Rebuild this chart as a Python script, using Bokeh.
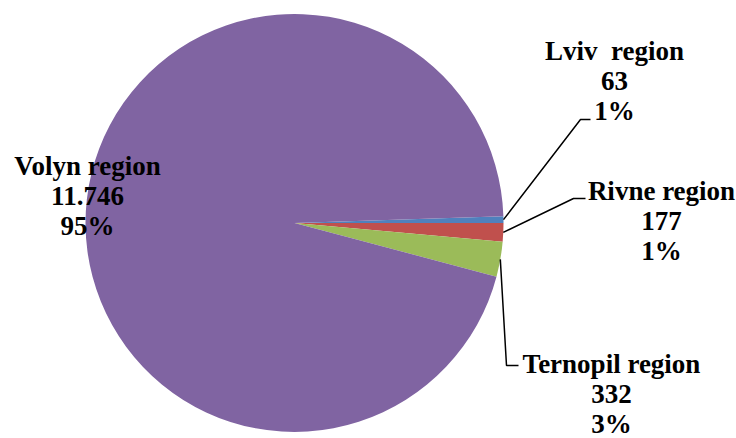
import math
from bokeh.plotting import figure
from bokeh.models import Range1d, ColumnDataSource
from bokeh.core.properties import value
from bokeh.embed import file_html
from bokeh.resources import INLINE

# ---- data ----
regions = ["Lviv\u00a0 region", "Rivne region", "Ternopil region", "Volyn region"]
amounts = [63, 177, 332, 11746]
colors = ["#4F81BD", "#C0504D", "#9BBB59", "#8064A2"]

# ---- layout (plot pixels, y up) ----
W, H = 736, 438
CX, CY, R = 294, 215.5, 209
START_DEG = 1.84  # rotation of first slice edge (math degrees)
# label centres (x, y of first line) and leader elbows
label_pos = [(614, 388), (661, 248), (611, 75), (87, 273)]
elbows = [[(580, 319), (590, 319)], [(573, 240), (585, 240)], [(506, 73), (518, 73)], None]
LINE_GAP = 30

total = sum(amounts)
starts, ends, mids = [], [], []
cum = 0.0
for a in amounts:
    s = math.radians(START_DEG) - 2 * math.pi * cum / total
    cum += a
    e = math.radians(START_DEG) - 2 * math.pi * cum / total
    starts.append(e)
    ends.append(s)
    mids.append((s + e) / 2)

p = figure(width=W, height=H, output_backend="svg", toolbar_location=None,
           x_range=Range1d(0, W), y_range=Range1d(0, H), min_border=0)
p.axis.visible = False
p.grid.visible = False
p.outline_line_color = None
p.background_fill_color = "white"

src = ColumnDataSource(dict(start=starts, end=ends, color=colors))
p.wedge(x=CX, y=CY, radius=R, start_angle="start", end_angle="end",
        fill_color="color", line_color=None, source=src)

# leader lines
for i in range(len(amounts)):
    if elbows[i] is None:
        continue
    x0 = CX + R * math.cos(mids[i])
    y0 = CY + R * math.sin(mids[i])
    xs = [x0] + [pt[0] for pt in elbows[i]]
    ys = [y0] + [pt[1] for pt in elbows[i]]
    p.line(xs, ys, line_color="black", line_width=1.5)

# labels
tx, ty, tt = [], [], []
for i, a in enumerate(amounts):
    pct = f"{round(100 * a / total)}%"
    val = f"{a:,}".replace(",", ".")
    lx, ly = label_pos[i]
    for k, t in enumerate([regions[i], val, pct]):
        tx.append(lx)
        ty.append(ly - k * LINE_GAP)
        tt.append(t)
p.text(x=tx, y=ty, text=tt, text_align="center", text_baseline="middle",
       text_font=value("Liberation Serif"), text_font_style="bold",
       text_font_size="27px", text_color="black")

open("out.html", "w").write(file_html(p, INLINE))
